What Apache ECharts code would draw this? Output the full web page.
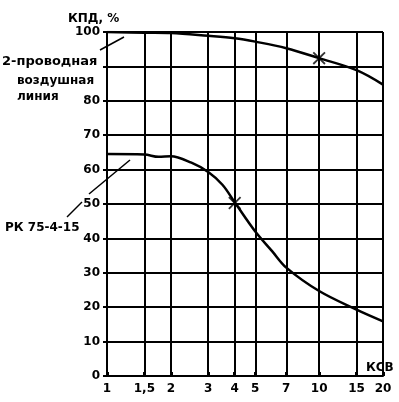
<!DOCTYPE html>
<html>
<head>
<meta charset="utf-8">
<script src="https://cdn.jsdelivr.net/npm/echarts@6/dist/echarts.min.js"></script>
<style>
  html, body { margin: 0; padding: 0; background: #fff; }
  #chart { width: 399px; height: 402px; }
</style>
</head>
<body>
<div id="chart"></div>
<script>
// шкала КСВ
var ksvTicks = [1, 1.5, 2, 3, 4, 5, 7, 10, 15, 20];
var ksvLabels = ['1', '1,5', '2', '3', '4', '5', '7', '10', '15', '20'];

// 2-проводная воздушная линия
var ksvLine = [1, 1.5, 2, 3, 4, 5, 7, 10, 15, 20];
var etaLine = [100, 99.8, 99.7, 98.9, 98.2, 97.2, 95.3, 92.4, 88.9, 84.7];

// РК 75-4-15
var ksvCable = [1, 1.5, 1.75, 2, 2.5, 3, 3.5, 4, 5, 6, 7, 10, 15, 20];
var etaCable = [64.5, 64.4, 63.7, 63.9, 62, 59.3, 55.6, 50.5, 42, 36.3, 31.5, 24.7, 19.3, 15.9];

// отмеченные точки (крестики)
var markKsv = [10, 4];
var markEta = [92.4, 50.3];

var FONT = 'DejaVu Sans';

function pairs(xs, ys) {
    var out = [];
    for (var i = 0; i < xs.length; i++) {
        out.push([xs[i], ys[i]]);
    }
    return out;
}

var crossPath = 'path://M0,2 L2,0 L10,8 L18,0 L20,2 L12,10 L20,18 L18,20 L10,12 L2,20 L0,18 L8,10 Z';

var myChart = echarts.init(document.getElementById('chart'), null, { renderer: 'canvas' });

var option = {
    animation: false,
    backgroundColor: '#fff',
    grid: { left: 107, right: 16, top: 32, bottom: 26 },
    xAxis: {
        type: 'log',
        logBase: 10,
        min: 1,
        max: 20,
        axisLine: { show: true, lineStyle: { color: '#000', width: 2 } },
        axisTick: { show: true, customValues: ksvTicks, length: 4, inside: true, lineStyle: { color: '#000', width: 3 } },
        axisLabel: {
            customValues: ksvTicks,
            margin: 7,
            color: '#000',
            fontFamily: FONT,
            fontWeight: 'bold',
            fontSize: 12,
            formatter: function (v) {
                for (var i = 0; i < ksvTicks.length; i++) {
                    if (Math.abs(ksvTicks[i] - v) < 1e-6) return ksvLabels[i];
                }
                return '';
            }
        },
        splitLine: { show: true, lineStyle: { color: '#000', width: 2 } }
    },
    yAxis: {
        type: 'value',
        min: 0,
        max: 100,
        interval: 10,
        axisLine: { show: true, lineStyle: { color: '#000', width: 2 } },
        axisTick: { show: true, length: 4, lineStyle: { color: '#000', width: 2 } },
        axisLabel: {
            margin: 7,
            color: '#000',
            fontFamily: FONT,
            fontWeight: 'bold',
            fontSize: 12,
            // подпись 90 закрыта надписью "2-проводная"
            formatter: function (v) {
                return v === 90 ? '' : String(v);
            }
        },
        splitLine: { show: true, lineStyle: { color: '#000', width: 2 } }
    },
    series: [
        {
            type: 'line',
            data: pairs(ksvLine, etaLine),
            smooth: 0.35,
            showSymbol: false,
            lineStyle: { color: '#000', width: 2.5 }
        },
        {
            type: 'line',
            data: pairs(ksvCable, etaCable),
            smooth: 0.35,
            showSymbol: false,
            lineStyle: { color: '#000', width: 2.5 }
        },
        {
            type: 'scatter',
            data: pairs(markKsv, markEta),
            symbol: crossPath,
            symbolSize: 13,
            itemStyle: { color: '#000' },
            z: 5
        }
    ],
    graphic: [
        { type: 'text', left: 68, top: 13, style: { text: 'КПД, %', font: 'bold 12px "DejaVu Sans"', fill: '#000' } },
        { type: 'text', left: 366, top: 362, style: { text: 'КСВ', font: 'bold 12px "DejaVu Sans"', fill: '#000' } },
        { type: 'text', left: 2, top: 55, style: { text: '2-проводная', font: 'bold 13px "DejaVu Sans"', fill: '#000' } },
        { type: 'text', left: 17, top: 75, style: { text: 'воздушная', font: 'bold 12px "DejaVu Sans"', fill: '#000' } },
        { type: 'text', left: 17, top: 91, style: { text: 'линия', font: 'bold 12px "DejaVu Sans"', fill: '#000' } },
        { type: 'text', left: 5, top: 222, style: { text: 'РК 75-4-15', font: 'bold 12px "DejaVu Sans"', fill: '#000' } },
        { type: 'line', shape: { x1: 100, y1: 50, x2: 124, y2: 37 }, style: { stroke: '#000', lineWidth: 1.5 } },
        { type: 'line', shape: { x1: 67, y1: 217, x2: 82, y2: 202 }, style: { stroke: '#000', lineWidth: 1.5 } },
        { type: 'line', shape: { x1: 89, y1: 194, x2: 130, y2: 160 }, style: { stroke: '#000', lineWidth: 1.5 } }
    ]
};

myChart.setOption(option);
window.onresize = myChart.resize;
</script>
</body>
</html>
